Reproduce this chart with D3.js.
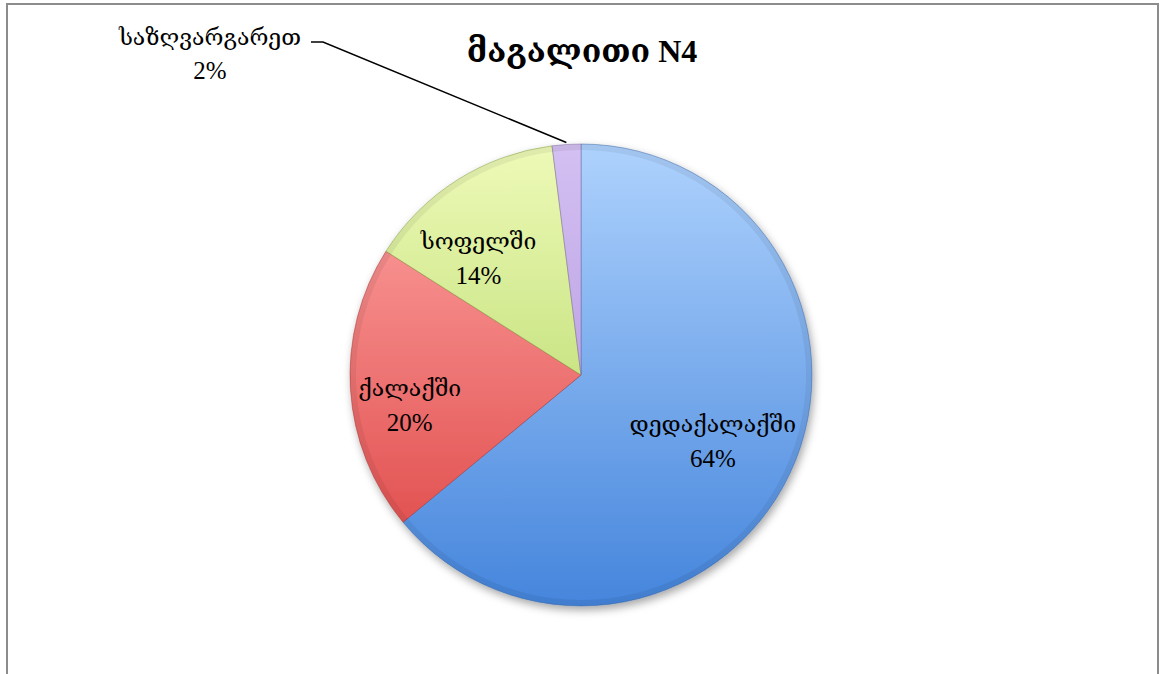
<!DOCTYPE html>
<html lang="ka">
<head>
    <meta charset="UTF-8">
    <title>მაგალითი N4</title>
    <script src="https://d3js.org/d3.v7.min.js"></script>
    <style>
        body { margin: 0; background: #fff; }
        svg { display: block; }
        .lbl { font-family: "Liberation Serif", "DejaVu Serif", serif; font-size: 23px; fill: #000; }
        .pct { font-size: 25px; }
        .title { font-family: "Liberation Serif", "DejaVu Serif", serif; font-size: 32px; font-weight: bold; }
    </style>
</head>
<body>
<svg width="1161" height="674"></svg>
<script>
    // data
    const categories = ["დედაქალაქში", "ქალაქში", "სოფელში", "საზღვარგარეთ"];
    const values = [64, 20, 14, 2];
    const colorsTop = ["#aed2fd", "#ffa8a6", "#eefab8", "#d4c0f2"];
    const colorsBottom = ["#4585dc", "#dc4040", "#a6cf52", "#a88ad8"];

    const svg = d3.select("svg");
    const cx = 581, cy = 375, R = 231;

    // frame
    svg.append("rect")
        .attr("x", 7).attr("y", 4)
        .attr("width", 1151).attr("height", 700)
        .attr("fill", "none")
        .attr("stroke", "#8c8c8c")
        .attr("stroke-width", 2);

    svg.append("text")
        .attr("class", "title")
        .attr("x", 582).attr("y", 62)
        .attr("text-anchor", "middle")
        .text("მაგალითი N4");

    const defs = svg.append("defs");
    categories.forEach((c, i) => {
        const g = defs.append("linearGradient")
            .attr("id", "grad" + i)
            .attr("gradientUnits", "userSpaceOnUse")
            .attr("x1", 0).attr("y1", -R)
            .attr("x2", 0).attr("y2", R);
        g.append("stop").attr("offset", "0%").attr("stop-color", colorsTop[i]);
        g.append("stop").attr("offset", "100%").attr("stop-color", colorsBottom[i]);
    });

    const shadow = defs.append("filter").attr("id", "shadow")
        .attr("x", "-10%").attr("y", "-10%").attr("width", "120%").attr("height", "125%");
    shadow.append("feDropShadow")
        .attr("dx", 2).attr("dy", 4).attr("stdDeviation", 4)
        .attr("flood-color", "#000").attr("flood-opacity", 0.35);

    const pie = d3.pie().sort(null).value(d => d);
    const arcs = pie(values);
    const arc = d3.arc().innerRadius(0).outerRadius(R);
    const bevel = d3.arc().innerRadius(R - 6).outerRadius(R);

    const g = svg.append("g").attr("transform", `translate(${cx},${cy})`);

    g.append("g").attr("filter", "url(#shadow)")
        .selectAll("path")
        .data(arcs)
        .enter()
        .append("path")
        .attr("d", arc)
        .attr("fill", (d, i) => `url(#grad${i})`)
        .attr("stroke", (d, i) => d3.color(colorsBottom[i]).darker(0.8))
        .attr("stroke-width", 0.8)
        .attr("stroke-opacity", 0.6);

    // soft bevel along rim
    g.selectAll(".bevel")
        .data(arcs)
        .enter()
        .append("path")
        .attr("class", "bevel")
        .attr("d", bevel)
        .attr("fill", "#000")
        .attr("fill-opacity", 0.06);

    // labels inside
    const labelR = [145, 173, 160];
    arcs.slice(0, 3).forEach((d, i) => {
        const a = (d.startAngle + d.endAngle) / 2 - (i === 1 ? 0.08 : i === 2 ? 0.13 : 0.01);
        const x = Math.sin(a) * labelR[i];
        const y = -Math.cos(a) * labelR[i];
        const t = g.append("text").attr("class", "lbl").attr("text-anchor", "middle")
            .attr("x", x).attr("y", y);
        t.append("tspan").attr("x", x).attr("dy", "-0.15em").text(categories[i]);
        t.append("tspan").attr("class", "pct").attr("x", x).attr("dy", "1.4em").text(values[i] + "%");
    });

    // outside label for the small slice
    const small = arcs[3];
    const am = (small.startAngle + small.endAngle) / 2;
    const px = cx + Math.sin(am) * (R + 2), py = cy - Math.cos(am) * (R + 2);
    svg.append("polyline")
        .attr("points", `${311},${42} ${323},${42} ${px},${py}`)
        .attr("fill", "none")
        .attr("stroke", "#000")
        .attr("stroke-width", 1.5);
    const ot = svg.append("text").attr("class", "lbl").attr("text-anchor", "middle")
        .attr("x", 210).attr("y", 45);
    ot.append("tspan").attr("x", 210).attr("dy", "0em").text(categories[3]);
    ot.append("tspan").attr("class", "pct").attr("x", 210).attr("dy", "1.35em").text(values[3] + "%");
</script>
</body>
</html>
